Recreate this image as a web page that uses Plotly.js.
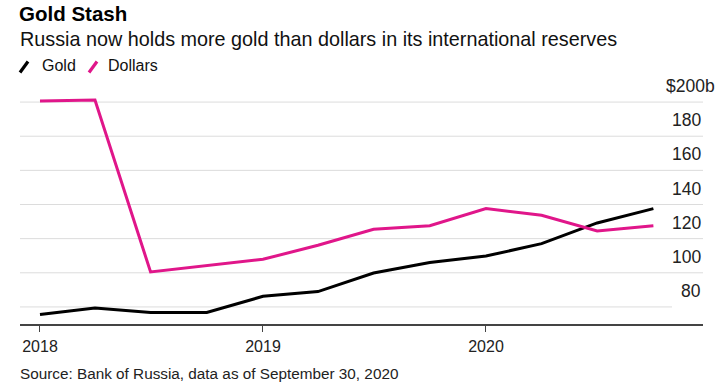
<!DOCTYPE html>
<html>
<head>
<meta charset="utf-8">
<script src="https://cdn.plot.ly/plotly-3.0.1.min.js"></script>
<style>html,body{margin:0;padding:0;background:#fff;}#chart{width:727px;height:382px;}</style>
</head>
<body>
<div id="chart"></div>
<script>
// ---- data ----
const dates = ['2018-01-01','2018-04-01','2018-07-01','2018-10-01',
               '2019-01-01','2019-04-01','2019-07-01','2019-10-01',
               '2020-01-01','2020-04-01','2020-07-01','2020-10-01'];
const gold    = [75.5, 79.4, 76.7, 76.7, 86.2, 89.0, 99.9, 106.0, 109.8, 117.1, 129.2, 137.6];
const dollars = [200.6, 201.2, 100.5, 104.2, 107.9, 116.1, 125.5, 127.6, 137.6, 133.7, 124.5, 127.6];
const seriesNames = ['Gold', 'Dollars'];
const yTicks  = [80, 100, 120, 140, 160, 180, 200];
const yLabels = ['80', '100', '120', '140', '160', '180', '$200b'];
const xTicks  = ['2018-01-01', '2019-01-01', '2020-01-01'];
const xLabels = ['2018', '2019', '2020'];

// ---- layout helpers ----
const W = 727, H = 382;
const M = {l: 20, r: 24, t: 85, b: 58};
const PW = W - M.l - M.r, PH = H - M.t - M.b;
const px = x => (x - M.l) / PW;          // pixel x -> paper
const py = y => (H - M.b - y) / PH;      // pixel y -> paper
const FONT = 'Liberation Sans, Arial, Helvetica, sans-serif';
const colors = ['#000000', '#e0168a'];

const traces = [gold, dollars].map((vals, i) => ({
  x: dates, y: vals, type: 'scatter', mode: 'lines', name: seriesNames[i],
  line: {color: colors[i], width: 3}, hoverinfo: 'x+y'
}));

const shapes = [];
yTicks.forEach(v => {
  shapes.push({type: 'line', xref: 'paper', yref: 'y', x0: 0, x1: v === 80 ? px(672) : 1,
               y0: v, y1: v, line: {color: '#dcdcdc', width: 1}, layer: 'below'});
});
// legend slashes
shapes.push({type: 'line', xref: 'paper', yref: 'paper', x0: px(20), x1: px(28), y0: py(72.5), y1: py(61.5),
             line: {color: colors[0], width: 3.2}});
shapes.push({type: 'line', xref: 'paper', yref: 'paper', x0: px(89), x1: px(97), y0: py(72.5), y1: py(61.5),
             line: {color: colors[1], width: 3.2}});

const annotations = [];
yTicks.forEach((v, i) => {
  annotations.push({xref: 'paper', yref: 'y', x: 1, y: v, xanchor: 'right', yanchor: 'middle',
    xshift: yLabels[i].indexOf('b') >= 0 ? 14 : 0, yshift: 16, showarrow: false,
    text: yLabels[i], font: {family: FONT, size: 17.5, color: '#222'}});
});
annotations.push({xref: 'paper', yref: 'paper', x: px(40), y: py(66), xanchor: 'left', yanchor: 'middle',
  showarrow: false, text: seriesNames[0], font: {family: FONT, size: 16, color: '#111'}});
annotations.push({xref: 'paper', yref: 'paper', x: px(106), y: py(66), xanchor: 'left', yanchor: 'middle',
  showarrow: false, text: seriesNames[1], font: {family: FONT, size: 16, color: '#111'}});
annotations.push({xref: 'paper', yref: 'paper', x: px(18), y: py(39), xanchor: 'left', yanchor: 'middle',
  showarrow: false, text: 'Russia now holds more gold than dollars in its international reserves',
  font: {family: FONT, size: 19.8, color: '#111'}});
annotations.push({xref: 'paper', yref: 'paper', x: px(18), y: py(373), xanchor: 'left', yanchor: 'middle',
  showarrow: false, text: 'Source: Bank of Russia, data as of September 30, 2020',
  font: {family: FONT, size: 15.3, color: '#222'}});

const layout = {
  width: W, height: H, margin: M, paper_bgcolor: '#fff', plot_bgcolor: '#fff',
  showlegend: false,
  title: {text: '<b>Gold Stash</b>', x: 19 / W, xref: 'container', xanchor: 'left',
          y: 1 - 14 / H, yref: 'container', yanchor: 'middle',
          font: {family: FONT, size: 20.5, color: '#000'}},
  xaxis: {type: 'date', range: ['2017-11-29 07:00', '2020-12-21 05:00'],
          tickvals: xTicks, ticktext: xLabels, showgrid: false, zeroline: false,
          showline: true, linecolor: '#444', linewidth: 1.5,
          ticks: 'outside', ticklen: 6, tickwidth: 1, tickcolor: '#444',
          ticklabelstandoff: 1,
          tickfont: {family: FONT, size: 16, color: '#222'}, fixedrange: true},
  yaxis: {range: [70, 210], showgrid: false, zeroline: false, showticklabels: false,
          showline: false, ticks: '', fixedrange: true},
  shapes: shapes, annotations: annotations
};

Plotly.newPlot('chart', traces, layout, {displayModeBar: false, staticPlot: true});
</script>
</body>
</html>
